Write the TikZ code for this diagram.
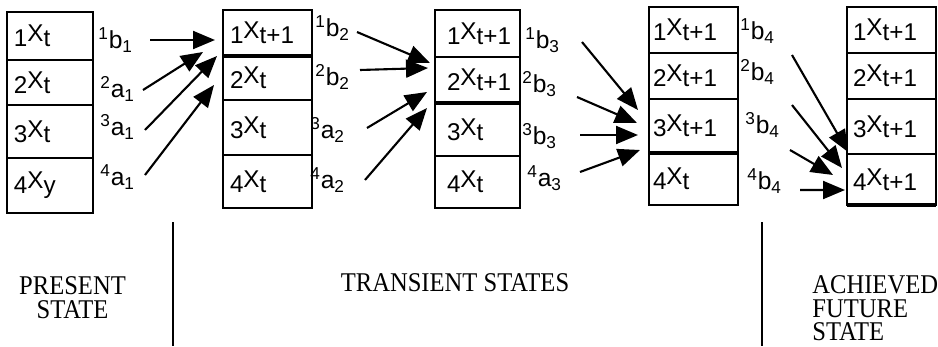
\documentclass[tikz,border=0pt]{standalone}
\usepackage{fontspec}
\setmainfont{Liberation Serif}
\setsansfont{Liberation Sans}
\usetikzlibrary{arrows.meta,positioning}

\newcommand{\xvar}[2]{#1\raisebox{0.22em}{X}#2}
\newcommand{\coef}[3]{\textsuperscript{#1}#2\textsubscript{#3}}

\begin{document}
\begin{tikzpicture}[
  x=1cm,
  y=1cm,
  cell/.style={
    draw,
    line width=1.1pt,
    outer sep=0pt,
    text width=#1,
    align=left,
    inner xsep=0.14cm,
    font=\sffamily\fontsize{13.8}{15}\selectfont
  },
  heavy/.style={line width=2.4pt},
  coefl/.style={
    anchor=west,
    inner sep=0pt,
    font=\sffamily\fontsize{14}{16}\selectfont
  },
  flow/.style={
    -{Triangle[length=0.44cm,width=0.36cm]},
    line width=1.2pt
  },
  phase/.style={
    inner sep=0pt,
    yscale=1.1,
    transform shape,
    font=\rmfamily\fontsize{14}{12.3}\selectfont
  },
  divider/.style={line width=1.1pt}
]
\useasboundingbox (0,0) rectangle (18.76,6.92);

% present state
\node[cell=1.44cm,minimum height=0.96cm] (s1r1) at (1.00,6.20) {\xvar{1}{t}};
\node[cell=1.44cm,minimum height=0.90cm,below=0pt of s1r1] (s1r2) {\xvar{2}{t}};
\node[cell=1.44cm,minimum height=1.06cm,below=0pt of s1r2] (s1r3) {\xvar{3}{t}};
\node[cell=1.44cm,minimum height=1.10cm,below=0pt of s1r3] (s1r4) {\xvar{4}{y}};

% transient states
\node[cell=1.50cm,minimum height=0.92cm] (s2r1) at (5.35,6.26) {\xvar{1}{t+1}};
\node[cell=1.50cm,minimum height=0.88cm,below=0pt of s2r1] (s2r2) {\xvar{2}{t}};
\node[cell=1.50cm,minimum height=1.10cm,below=0pt of s2r2] (s2r3) {\xvar{3}{t}};
\node[cell=1.50cm,minimum height=1.06cm,below=0pt of s2r3] (s2r4) {\xvar{4}{t}};
\draw[heavy] (s2r1.south west) -- (s2r1.south east);

\node[cell=1.22cm,inner xsep=0.24cm,minimum height=0.94cm] (s3r1) at (9.55,6.25) {\xvar{1}{t+1}};
\node[cell=1.22cm,inner xsep=0.24cm,minimum height=0.92cm,below=0pt of s3r1] (s3r2) {\xvar{2}{t+1}};
\node[cell=1.22cm,inner xsep=0.24cm,minimum height=1.06cm,below=0pt of s3r2] (s3r3) {\xvar{3}{t}};
\node[cell=1.22cm,inner xsep=0.24cm,minimum height=1.04cm,below=0pt of s3r3] (s3r4) {\xvar{4}{t}};
\draw[heavy] (s3r2.south west) -- (s3r2.south east);

\node[cell=1.62cm,inner xsep=0.08cm,minimum height=0.92cm] (s4r1) at (13.87,6.32) {\xvar{1}{t+1}};
\node[cell=1.62cm,inner xsep=0.08cm,minimum height=0.92cm,below=0pt of s4r1] (s4r2) {\xvar{2}{t+1}};
\node[cell=1.62cm,inner xsep=0.08cm,minimum height=1.08cm,below=0pt of s4r2] (s4r3) {\xvar{3}{t+1}};
\node[cell=1.62cm,inner xsep=0.08cm,minimum height=1.04cm,below=0pt of s4r3] (s4r4) {\xvar{4}{t}};
\draw[heavy] (s4r3.south west) -- (s4r3.south east);

% achieved future state
\node[cell=1.54cm,inner xsep=0.12cm,minimum height=0.92cm] (s5r1) at (17.83,6.32) {\xvar{1}{t+1}};
\node[cell=1.54cm,inner xsep=0.12cm,minimum height=0.92cm,below=0pt of s5r1] (s5r2) {\xvar{2}{t+1}};
\node[cell=1.54cm,inner xsep=0.12cm,minimum height=1.10cm,below=0pt of s5r2] (s5r3) {\xvar{3}{t+1}};
\node[cell=1.54cm,inner xsep=0.12cm,minimum height=1.02cm,below=0pt of s5r3] (s5r4) {\xvar{4}{t+1}};
\draw[heavy] (s5r4.south west) -- (s5r4.south east);

% coefficients
\node[coefl] (b11) at (1.96,6.12) {\coef{1}{b}{1}};
\node[coefl] (a21) at (2.00,5.14) {\coef{2}{a}{1}};
\node[coefl] (a31) at (2.00,4.38) {\coef{3}{a}{1}};
\node[coefl] (a41) at (2.00,3.38) {\coef{4}{a}{1}};

\node[coefl] (b12) at (6.30,6.36) {\coef{1}{b}{2}};
\node[coefl] (b22) at (6.30,5.38) {\coef{2}{b}{2}};
\node[coefl] (a32) at (6.20,4.32) {\coef{3}{a}{2}};
\node[coefl] (a42) at (6.20,3.32) {\coef{4}{a}{2}};

\node[coefl] (b13) at (10.50,6.12) {\coef{1}{b}{3}};
\node[coefl] (b23) at (10.44,5.24) {\coef{2}{b}{3}};
\node[coefl] (b33) at (10.44,4.20) {\coef{3}{b}{3}};
\node[coefl] (a43) at (10.54,3.36) {\coef{4}{a}{3}};

\node[coefl] (b14) at (14.80,6.30) {\coef{1}{b}{4}};
\node[coefl] (b24) at (14.80,5.48) {\coef{2}{b}{4}};
\node[coefl] (b34) at (14.90,4.42) {\coef{3}{b}{4}};
\node[coefl] (b44) at (14.94,3.30) {\coef{4}{b}{4}};

% arrow heads meet here
\coordinate (b11t) at (4.30,6.12);
\coordinate (a21t) at (4.06,5.88);
\coordinate (a31t) at (4.34,5.80);
\coordinate (a41t) at (4.28,5.22);
\coordinate (b12t) at (8.60,5.66);
\coordinate (b22t) at (8.56,5.56);
\coordinate (a32t) at (8.54,5.08);
\coordinate (a42t) at (8.54,4.76);
\coordinate (b13t) at (12.76,4.72);
\coordinate (b23t) at (12.74,4.46);
\coordinate (b33t) at (12.76,4.22);
\coordinate (a43t) at (12.80,3.92);
\coordinate (b14t) at (16.96,3.88);
\coordinate (b24t) at (16.84,3.56);
\coordinate (b34t) at (16.66,3.42);
\coordinate (b44t) at (16.90,3.12);

\draw[flow] ([xshift=1.04cm]b11.west) -- (b11t);
\draw[flow] ([xshift=0.86cm,yshift=-0.02cm]a21.west) -- (a21t);
\draw[flow] ([xshift=0.90cm,yshift=-0.06cm]a31.west) -- (a31t);
\draw[flow] ([xshift=0.90cm,yshift=0.04cm]a41.west) -- (a41t);

\draw[flow] ([xshift=0.84cm,yshift=-0.08cm]b12.west) -- (b12t);
\draw[flow] ([xshift=0.90cm,yshift=0.14cm]b22.west) -- (b22t);
\draw[flow] ([xshift=1.14cm,yshift=0.04cm]a32.west) -- (a32t);
\draw[flow] ([xshift=1.10cm]a42.west) -- (a42t);

\draw[flow] ([xshift=1.14cm,yshift=-0.04cm]b13.west) -- (b13t);
\draw[flow] ([xshift=1.10cm,yshift=-0.26cm]b23.west) -- (b23t);
\draw[flow] ([xshift=1.16cm,yshift=0.02cm]b33.west) -- (b33t);
\draw[flow] ([xshift=1.06cm,yshift=0.12cm]a43.west) -- (a43t);

\draw[flow] ([xshift=1.04cm,yshift=-0.48cm]b14.west) -- (b14t);
\draw[flow] ([xshift=1.04cm,yshift=-0.66cm]b24.west) -- (b24t);
\draw[flow] ([xshift=0.90cm,yshift=-0.50cm]b34.west) -- (b34t);
\draw[flow] ([xshift=1.06cm,yshift=-0.18cm]b44.west) -- (b44t);

% phases
\draw[divider] (3.46,2.48) -- (3.46,0);
\draw[divider] (15.24,2.48) -- (15.24,0);
\node[phase,align=center] (present) at (1.45,0.96) {PRESENT\\STATE};
\node[phase] (transient) at (9.10,1.26) {TRANSIENT STATES};
\node[phase,align=left,anchor=north west] (achieved) at (16.24,1.42) {ACHIEVED\\FUTURE\\STATE};

\end{tikzpicture}
\end{document}
